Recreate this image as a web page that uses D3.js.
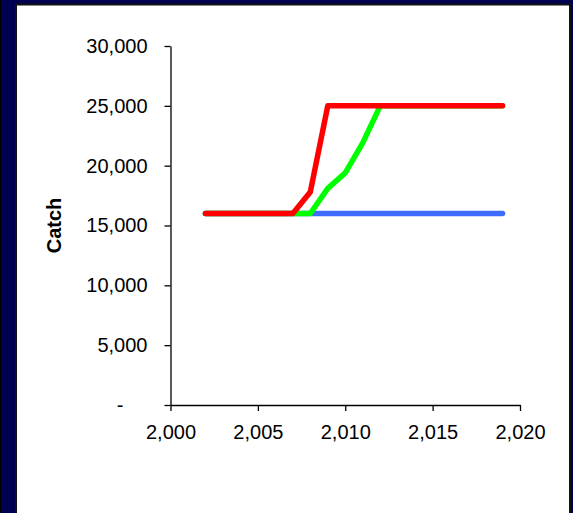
<!DOCTYPE html>
<html>
<head>
<meta charset="utf-8">
<script src="https://cdn.jsdelivr.net/npm/d3@7"></script>
<style>
  html, body { margin: 0; padding: 0; background: #000050; }
  svg { display: block; }
  text { font-family: "Liberation Sans", Arial, sans-serif; fill: #000; }
</style>
</head>
<body>
<svg id="chart" width="573" height="513"></svg>
<script>
// Catch projections by year
const years      = [2002, 2003, 2004, 2005, 2006, 2007, 2008, 2009, 2010, 2011, 2012, 2013, 2014, 2015, 2016, 2017, 2018, 2019];
const catchBlue  = [16000, 16000, 16000, 16000, 16000, 16000, 16000, 16000, 16000, 16000, 16000, 16000, 16000, 16000, 16000, 16000, 16000, 16000];
const catchGreen = [16000, 16000, 16000, 16000, 16000, 16000, 16000, 18100, 19400, 21900, 25000, 25000, 25000, 25000, 25000, 25000, 25000, 25000];
const catchRed   = [16000, 16000, 16000, 16000, 16000, 16000, 17800, 25000, 25000, 25000, 25000, 25000, 25000, 25000, 25000, 25000, 25000, 25000];
const xTicks = [2000, 2005, 2010, 2015, 2020];
const yTicks = [0, 5000, 10000, 15000, 20000, 25000, 30000];
const yTitle = "Catch";

const series = [
  { name: "blue",  values: catchBlue,  color: "#3d6cff" },
  { name: "green", values: catchGreen, color: "#00ff00" },
  { name: "red",   values: catchRed,   color: "#ff0000" }
];

const svg = d3.select("#chart");

// outer frame and white panel
svg.append("rect").attr("x", 0).attr("y", 0).attr("width", 573).attr("height", 513).attr("fill", "#000050");
svg.append("rect").attr("x", 0).attr("y", 0).attr("width", 1).attr("height", 513).attr("fill", "#000");
svg.append("rect").attr("x", 16).attr("y", 4.5).attr("width", 554).attr("height", 530)
  .attr("fill", "#fff").attr("stroke", "#111").attr("stroke-width", 2);

const x = d3.scaleLinear().domain([2000, 2020]).range([170.5, 520]);
const y = d3.scaleLinear().domain([0, 30000]).range([405, 46]);

const fmt = d => d === 0 ? "-" : d3.format(",")(d);

// y axis
const yAxis = svg.append("g").attr("transform", "translate(170.5,0)")
  .call(d3.axisLeft(y).tickValues(yTicks).tickSize(6).tickSizeOuter(0).tickPadding(17).tickFormat(fmt));
yAxis.select(".domain").attr("stroke", "#000").attr("stroke-width", 1.3);
yAxis.selectAll(".tick line").attr("stroke", "#000").attr("stroke-width", 1.3);
yAxis.selectAll(".tick text").attr("font-size", 20).attr("fill", "#000")
  .attr("font-family", "'Liberation Sans', Arial, sans-serif")
  .attr("dx", d => d === 0 ? -24 : 0);

// x axis
const xAxis = svg.append("g").attr("transform", "translate(0,405)")
  .call(d3.axisBottom(x).tickValues(xTicks).tickSize(6).tickSizeOuter(0).tickPadding(14).tickFormat(d3.format(",")));
xAxis.select(".domain").attr("stroke", "#000").attr("stroke-width", 1.3);
xAxis.selectAll(".tick line").attr("stroke", "#000").attr("stroke-width", 1.3);
xAxis.selectAll(".tick text").attr("font-size", 20).attr("fill", "#000")
  .attr("font-family", "'Liberation Sans', Arial, sans-serif");

// y axis title
svg.append("text")
  .attr("transform", "translate(61,225.5) rotate(-90)")
  .attr("text-anchor", "middle")
  .attr("font-size", 20).attr("font-weight", "bold")
  .text(yTitle);

// catch lines
const line = d3.line().x((d, i) => x(years[i])).y(d => y(d));
svg.append("g").selectAll("path").data(series).join("path")
  .attr("d", d => line(d.values))
  .attr("fill", "none")
  .attr("stroke", d => d.color)
  .attr("stroke-width", 5.5)
  .attr("stroke-linejoin", "round")
  .attr("stroke-linecap", "round");
</script>
</body>
</html>
